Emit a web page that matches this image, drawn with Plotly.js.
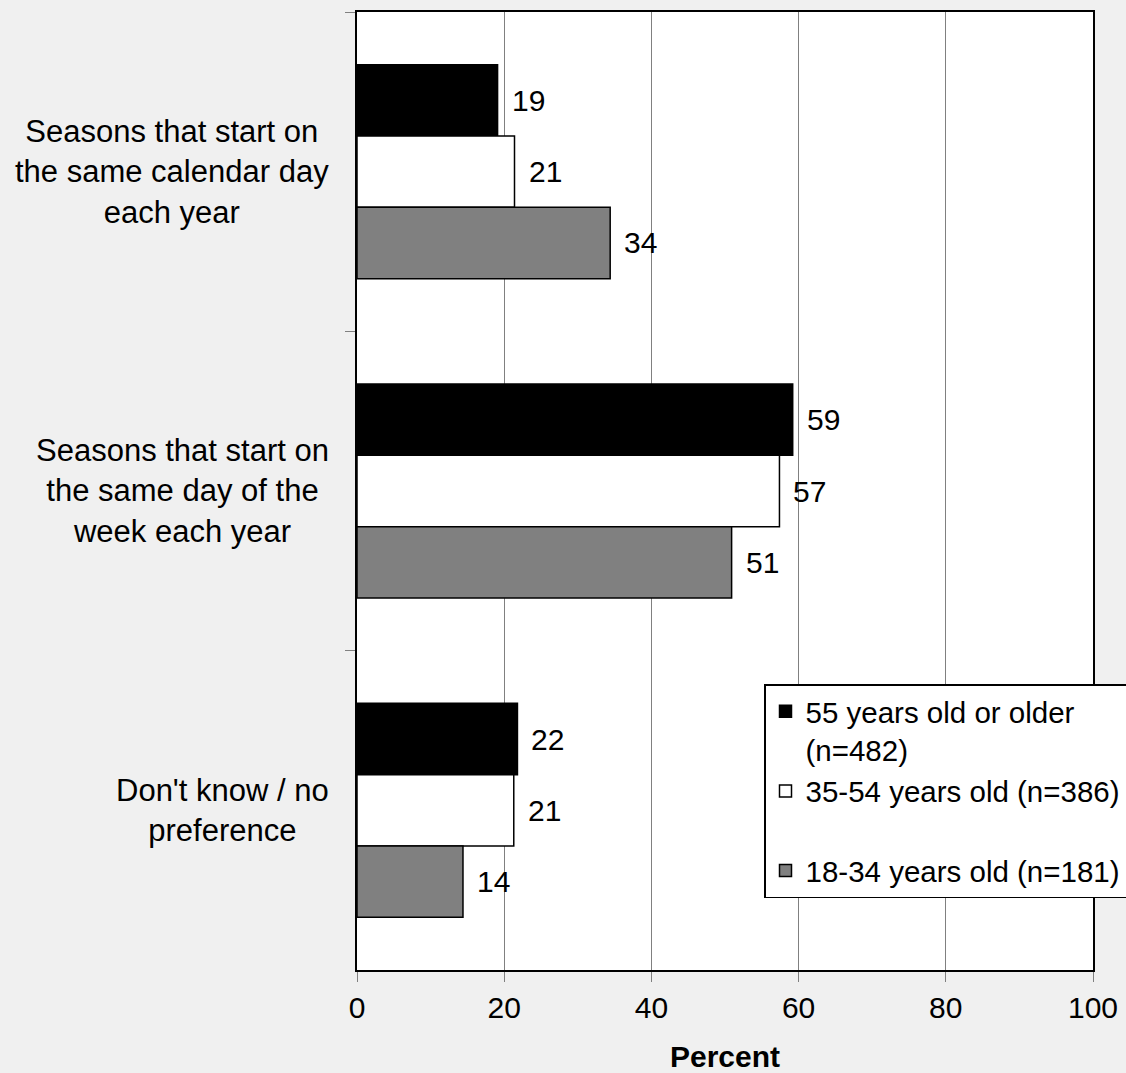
<!DOCTYPE html>
<html>
<head>
<meta charset="utf-8">
<script src="https://cdn.plot.ly/plotly-3.0.1.min.js"></script>
<style>html,body{margin:0;padding:0;background:#f0f0f0;}</style>
</head>
<body>
<div id="chart" style="width:1126px;height:1073px;"></div>
<script>
// ---- data ----
const categories = [
  "Seasons that start on<br>the same calendar day<br>each year",
  "Seasons that start on<br>the same day of the<br>week each year",
  "Don't know / no<br>preference"
];
const seriesNames = [
  "55 years old or older<br>(n=482)",
  "35-54 years old (n=386)<br>\u00A0",
  "18-34 years old (n=181)"
];
const values55plus = [19.1, 59.2, 21.8];
const values35to54 = [21.4, 57.4, 21.3];
const values18to34 = [34.4, 50.9, 14.4];
const xTickValues = [0, 20, 40, 60, 80, 100];
const xTitle = "Percent";

// ---- styles ----
const FONT = "Arial, 'Liberation Sans', sans-serif";
const seriesValues = [values55plus, values35to54, values18to34];
const seriesColors = ["#000000", "#ffffff", "#808080"];
const bargap = 0.33;

const traces = seriesValues.map((vals, k) => ({
  type: "bar",
  orientation: "h",
  name: seriesNames[k],
  y: categories,
  x: vals,
  marker: {color: seriesColors[k], line: {color: "#000000", width: 1.5}},
  hoverinfo: "x"
}));

const annotations = [];
const bw = (1 - bargap) / seriesValues.length;
seriesValues.forEach((vals, k) => {
  vals.forEach((v, c) => {
    annotations.push({
      xref: "x", yref: "y",
      x: v, y: c + (k - 1) * bw,
      text: String(Math.round(v)),
      showarrow: false,
      xanchor: "left", yanchor: "middle",
      xshift: 12,
      font: {family: FONT, size: 30, color: "#000"}
    });
  });
});
categories.forEach((cat, c) => {
  annotations.push({
    xref: "paper", yref: "y",
    x: 0, y: c,
    text: cat,
    showarrow: false,
    xanchor: "right", yanchor: "middle",
    align: "center",
    xshift: -26,
    font: {family: FONT, size: 31, color: "#000"}
  });
});

const layout = {
  width: 1126, height: 1073,
  paper_bgcolor: "#f0f0f0",
  plot_bgcolor: "#ffffff",
  margin: {l: 357, r: 33, t: 12, b: 103, autoexpand: false},
  barmode: "group",
  bargap: bargap,
  bargroupgap: 0,
  font: {family: FONT, size: 30, color: "#000"},
  xaxis: {
    range: [0, 100],
    tickvals: xTickValues,
    ticks: "outside", ticklen: 10, tickcolor: "#808080", tickwidth: 1,
    showgrid: true, gridcolor: "#808080", gridwidth: 1,
    zeroline: false,
    showline: true, linecolor: "#000", linewidth: 2, mirror: true,
    tickfont: {family: FONT, size: 30, color: "#000"},
    title: {text: "<b>" + xTitle + "</b>", font: {family: FONT, size: 30, color: "#000"}, standoff: 24}
  },
  yaxis: {
    type: "category",
    autorange: "reversed",
    tickson: "boundaries",
    ticks: "outside", ticklen: 10, tickcolor: "#808080", tickwidth: 1,
    showticklabels: false,
    showgrid: false, zeroline: false,
    showline: true, linecolor: "#000", linewidth: 2, mirror: true
  },
  legend: {
    x: (764 - 357) / 736, y: (970 - 684) / 958,
    xanchor: "left", yanchor: "top",
    bgcolor: "#ffffff", bordercolor: "#000", borderwidth: 1.5,
    font: {family: FONT, size: 29.5, color: "#000"},
    traceorder: "normal",
    valign: "top",
    itemwidth: 30
  },
  annotations: annotations,
  showlegend: true
};

Plotly.newPlot("chart", traces, layout, {displayModeBar: false, staticPlot: true});
</script>
</body>
</html>
